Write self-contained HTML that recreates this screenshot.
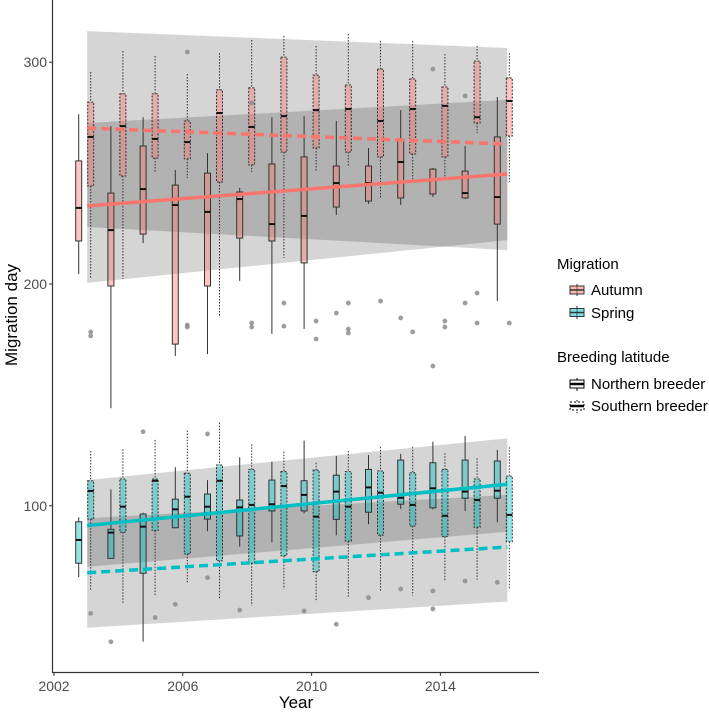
<!DOCTYPE html>
<html><head><meta charset="utf-8"><style>
html,body{margin:0;padding:0;background:#fff;}
svg{display:block;font-family:"Liberation Sans",Arial,sans-serif;}
</style></head><body>
<svg id="chart" width="709" height="712" viewBox="0 0 709 712">
<g id="ribbons"></g>
<g id="boxes"></g>
<g id="trend"></g>
<g id="axes"></g>
<g id="legend">
  <text x="557" y="269" font-size="15" fill="#000">Migration</text>
  <g>
    <line x1="577" y1="284" x2="577" y2="296" stroke="#333" stroke-width="1"/>
    <rect x="570" y="286" width="14" height="8" fill="#f8766d" fill-opacity="0.5" stroke="#333" stroke-width="1"/>
    <line x1="570" y1="290" x2="584" y2="290" stroke="#333" stroke-width="1.5"/>
    <text x="591" y="295" font-size="15">Autumn</text>
  </g>
  <g>
    <line x1="577" y1="306" x2="577" y2="319" stroke="#333" stroke-width="1"/>
    <rect x="570" y="308.5" width="14" height="8" fill="#00bfc4" fill-opacity="0.5" stroke="#333" stroke-width="1"/>
    <line x1="570" y1="312.5" x2="584" y2="312.5" stroke="#333" stroke-width="1.5"/>
    <text x="591" y="318" font-size="15">Spring</text>
  </g>
  <text x="557" y="362" font-size="15" fill="#000">Breeding latitude</text>
  <g>
    <line x1="577" y1="378" x2="577" y2="391" stroke="#000" stroke-width="1"/>
    <rect x="570" y="380" width="14" height="8" fill="#fff" stroke="#000" stroke-width="1"/>
    <line x1="570" y1="384" x2="584" y2="384" stroke="#000" stroke-width="2.5"/>
    <text x="591" y="389" font-size="15">Northern breeder</text>
  </g>
  <g>
    <line x1="577" y1="400" x2="577" y2="413" stroke="#000" stroke-width="1" stroke-dasharray="1.5,1.5"/>
    <rect x="570" y="402" width="14" height="8" fill="#fff" stroke="#000" stroke-width="1" stroke-dasharray="2,2"/>
    <line x1="570" y1="406" x2="584" y2="406" stroke="#000" stroke-width="2.5"/>
    <text x="591" y="411" font-size="15">Southern breeder</text>
  </g>
</g>
</svg>
<script>
// ---- data ----
const years = [2003,2004,2005,2006,2007,2008,2009,2010,2011,2012,2013,2014,2015,2016];
// each box: [whiskerLow, q1, median, q3, whiskerHigh]
const autumnNorth = [
 [204.5,219.4,234.3,255.5,276.6],[144,199.1,224.3,241,271.2],[218.5,222.5,242.8,262.2,275.2],
 [167.5,172.9,235.6,244.6,251.4],[168.4,199.1,232.5,250,259],[201.4,220.7,238.3,241.5,243.3],
 [177.5,219.4,227,254.1,275.2],[179.7,209.5,230.7,257.3,275.7],[231.1,234.7,245.5,253.2,273.5],
 [236.1,237.4,245.5,253.2,261.3],[235.6,238.8,255,265.4,278.4],[239.2,240.6,246.9,251.8,252.3],
 [238.3,238.8,241,250.9,262.2],[192.3,227,239.2,266.3,284.3]];
const autumnSouth = [
 [202.3,244.2,266.3,282,295.6],[202.3,248.7,271.2,285.7,305],[250.5,256.8,265.4,285.7,302.8],
 [247.8,256.4,264,273.5,294.7],[185.1,246,277.1,287.5,304.1],[250.5,253.7,270.8,288.4,310],
 [211.7,259.5,275.7,302.3,311.8],[250.5,261.3,278.4,294.2,307.3],[252.7,259.5,278.9,289.7,312.7],
 [238.3,257.3,273.5,296.9,309.6],[247.3,258.6,278.9,292.4,309.6],[248.2,257.3,280.3,288.8,303.7],
 [268.1,272.6,275.2,300.5,307.3],[246,266.7,282.5,292.9,304.1]];
const springNorth = [
 [67.8,74.1,84.6,92.8,94.8],[76.3,76.3,87.9,89.4,107.4],[38.7,69.6,90.6,96.3,96.9],
 [90.1,90.1,98.4,103,117.4],[88.6,94,99.6,105.3,111.6],[81.6,86.4,99.3,102.6,121.9],
 [83.5,97.7,100.7,111.6,119.9],[96.6,97.7,104.9,111.3,129.4],[86.7,93.9,106.4,113.8,122.5],
 [91.7,97.1,108.3,116.4,122.9],[98.6,100.7,103.6,120.6,123.4],[98.4,99.1,107.9,119.4,128.9],
 [97.7,103.4,106.4,120.6,131.5],[92.6,103.4,106.8,120.2,125.2]];
const springSouth = [
 [61.6,94,106.7,111.3,124.7],[56.3,88.1,99.6,112.1,125.5],[59.5,88.8,111.3,112.1,129.7],
 [65.3,78.3,104.1,114.7,133.9],[57.8,75.2,111.3,118.4,137.5],[55,74.1,100.4,116.4,127.7],
 [62.4,77.5,108.9,115.4,124.4],[57.2,70.3,95.1,116.1,119.4],[58.7,84.1,99.6,115.4,124.7],
 [61.3,86.8,105.9,115.7,126.6],[59.5,90.9,100.4,114.9,126.6],[66.5,86.1,95.5,116.4,123.7],
 [66.8,90.3,102.6,112.1,121.4],[62.8,83.8,95.9,113.4,126.4]];
// outliers: [year, group(0 north,1 south), value]
const autumnOutliers = [[2003,1,178.4],[2003,1,176.6],[2006,1,304.6],[2006,1,181.5],[2006,1,180.6],
 [2008,1,281.6],[2008,1,182.4],[2008,1,180.6],[2009,1,191.4],[2009,1,181],[2010,1,183.3],[2010,1,175.2],
 [2011,0,186.9],[2011,1,179.7],[2011,1,177.9],[2011,1,191.4],[2012,1,192.3],[2013,0,184.7],[2013,1,178.4],
 [2014,0,296.9],[2014,0,163],[2014,1,183.3],[2014,1,180.6],[2015,0,284.8],[2015,0,191.4],[2015,1,182.4],
 [2015,1,195.9],[2016,1,182.4]];
const springOutliers = [[2003,1,51.5],[2004,0,38.7],[2005,0,133.4],[2005,1,49.6],[2006,0,55.6],
 [2007,0,132.4],[2007,0,67.6],[2008,0,53],[2010,0,52.6],[2011,0,46.6],[2012,0,58.6],[2013,0,62.5],
 [2014,0,61.6],[2014,0,53.5],[2015,0,66.1],[2016,0,65.5]];
// trend lines: [start(2003), end(2016)]
const autumnNorthFit = [235.2,249.6], autumnNorthLo=[200.5,219.8], autumnNorthHi=[272.6,283];
const autumnSouthFit = [270.3,263.1], autumnSouthLo=[225.7,215.3], autumnSouthHi=[314,306.4];
const springNorthFit = [91.1,109.7], springNorthLo=[72.5,88.3], springNorthHi=[111.6,130.4];
const springSouthFit = [69.8,81.4], springSouthLo=[45,56.8], springSouthHi=[94.4,104.9];
const xTicks = [2002,2006,2010,2014];
const yTicks = [100,200,300];

// ---- scales ----
const NS='http://www.w3.org/2000/svg';
const xs = yr => 54 + (yr-2002)*32.2;
const ys = v => 284 - (v-200)*2.218;
const xb = (yr,g) => xs(yr) + (g ? 4.5 : -7.5);
function mk(tag, attrs, parent){const e=document.createElementNS(NS,tag);for(const k in attrs)e.setAttribute(k,attrs[k]);parent.appendChild(e);return e;}

// ribbons
const rib=document.getElementById('ribbons');
const fitX0 = xs(2003)+1, fitX1 = xs(2016)+2.5;
[[autumnNorthLo,autumnNorthHi,'ribbon-autumn-northern'],[autumnSouthLo,autumnSouthHi,'ribbon-autumn-southern'],
 [springNorthLo,springNorthHi,'ribbon-spring-northern'],[springSouthLo,springSouthHi,'ribbon-spring-southern']].forEach(r=>{
  const p=mk('polygon',{points:`${fitX0},${ys(r[1][0])} ${fitX1},${ys(r[1][1])} ${fitX1},${ys(r[0][1])} ${fitX0},${ys(r[0][0])}`,fill:'#000','fill-opacity':0.165},rib);
  
  
});

// boxes
const bx=document.getElementById('boxes');
function drawBoxes(data,g,color,label){
  data.forEach((d,i)=>{
    const yr=years[i], cx=xb(yr,g), w=6;
    const grp=mk('g',{},bx);
    
    
    const dash = g ? {'stroke-dasharray':'1.5,1.5'} : {};
    mk('line',Object.assign({x1:cx,x2:cx,y1:ys(d[4]),y2:ys(d[3]),stroke:'#333','stroke-width':1},dash),grp);
    mk('line',Object.assign({x1:cx,x2:cx,y1:ys(d[1]),y2:ys(d[0]),stroke:'#333','stroke-width':1},dash),grp);
    mk('rect',Object.assign({x:cx-w/2,y:ys(d[3]),width:w,height:Math.max(0.5,ys(d[1])-ys(d[3])),fill:color,'fill-opacity':0.42,stroke:'#333','stroke-width':1},g?{'stroke-dasharray':'2,1.5'}:{}),grp);
    mk('line',{x1:cx-w/2,x2:cx+w/2,y1:ys(d[2]),y2:ys(d[2]),stroke:'#111','stroke-width':2},grp);
  });
}
drawBoxes(autumnNorth,0,'#f8766d','autumn-northern');
drawBoxes(autumnSouth,1,'#f8766d','autumn-southern');
drawBoxes(springNorth,0,'#00bfc4','spring-northern');
drawBoxes(springSouth,1,'#00bfc4','spring-southern');
[[autumnOutliers,'autumn'],[springOutliers,'spring']].forEach(s=>{
  s[0].forEach(o=>{
    const c=mk('circle',{cx:xb(o[0],o[1]),cy:ys(o[2]),r:2.4,fill:'#8c8c8c','fill-opacity':0.85},bx);
    
    
  });
});

// trend lines
const tr=document.getElementById('trend');
[[autumnNorthFit,'#f8766d',0,'trend-autumn-northern'],[autumnSouthFit,'#f8766d',1,'trend-autumn-southern'],
 [springNorthFit,'#00bfc4',0,'trend-spring-northern'],[springSouthFit,'#00bfc4',1,'trend-spring-southern']].forEach(t=>{
  const l=mk('line',Object.assign({x1:fitX0,x2:fitX1,y1:ys(t[0][0]),y2:ys(t[0][1]),stroke:t[1],'stroke-width':3.5},t[2]?{'stroke-dasharray':'9,5'}:{}),tr);
  
  
});

// axes
const ax=document.getElementById('axes');
const yl=mk('line',{x1:52.5,x2:52.5,y1:0,y2:673,stroke:'#333','stroke-width':1.2},ax);


const xl=mk('line',{x1:52,x2:539,y1:672.5,y2:672.5,stroke:'#333','stroke-width':1.2},ax);


xTicks.forEach(t=>{
  mk('line',{x1:xs(t),x2:xs(t),y1:672.5,y2:676,stroke:'#333','stroke-width':1},ax);
  const tx=mk('text',{x:xs(t),y:691,'font-size':14,fill:'#4d4d4d','text-anchor':'middle'},ax);
  tx.textContent=t;
  
  
});
yTicks.forEach(t=>{
  mk('line',{x1:49,x2:52.5,y1:ys(t),y2:ys(t),stroke:'#333','stroke-width':1},ax);
  const tx=mk('text',{x:47,y:ys(t)+5,'font-size':14,fill:'#4d4d4d','text-anchor':'end'},ax);
  tx.textContent=t;
  
  
});
const xt=mk('text',{x:296,y:708,'font-size':17,fill:'#000','text-anchor':'middle'},ax);
xt.textContent='Year';


const yt=mk('text',{x:0,y:0,'font-size':17,fill:'#000','text-anchor':'middle',transform:'translate(17,315) rotate(-90)'},ax);
yt.textContent='Migration day';


</script>
</body></html>
